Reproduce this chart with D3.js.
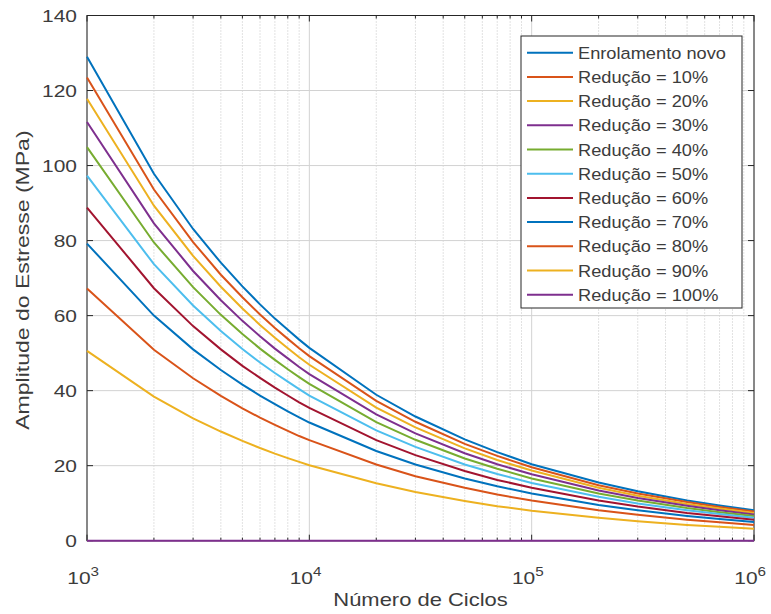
<!DOCTYPE html>
<html>
<head>
<meta charset="utf-8">
<script src="https://d3js.org/d3.v7.min.js"></script>
<style>
  body { margin: 0; background: #fff; }
  svg { display: block; font-family: "Liberation Sans", Arial, sans-serif; }
</style>
</head>
<body>
<div id="chart"></div>
<script>
// cycle counts where the curves were sampled
const cycles = [1e3, 2e3, 3e3, 4e3, 5e3, 6e3, 7e3, 8e3, 9e3, 1e4, 2e4, 3e4, 5e4, 7e4, 1e5, 2e5, 3e5, 5e5, 7e5, 1e6];

const novo   = [129.0, 97.8, 83.1, 74.1, 67.8, 63.0, 59.2, 56.2, 53.6, 51.4, 38.9, 33.1, 27.0, 23.6, 20.4, 15.5, 13.2, 10.7, 9.4, 8.1];
const red10  = [123.5, 93.6, 79.6, 70.9, 64.9, 60.3, 56.7, 53.8, 51.3, 49.2, 37.3, 31.7, 25.8, 22.6, 19.6, 14.8, 12.6, 10.3, 9.0, 7.8];
const red20  = [117.8, 89.3, 75.9, 67.7, 61.9, 57.5, 54.1, 51.3, 48.9, 46.9, 35.5, 30.2, 24.6, 21.5, 18.7, 14.1, 12.0, 9.8, 8.6, 7.4];
const red30  = [111.6, 84.6, 71.9, 64.1, 58.6, 54.5, 51.2, 48.6, 46.3, 44.4, 33.7, 28.6, 23.3, 20.4, 17.7, 13.4, 11.4, 9.3, 8.1, 7.0];
const red40  = [104.9, 79.5, 67.6, 60.2, 55.1, 51.2, 48.2, 45.7, 43.6, 41.8, 31.6, 26.9, 21.9, 19.2, 16.6, 12.6, 10.7, 8.7, 7.6, 6.6];
const red50  = [97.3, 73.7, 62.7, 55.9, 51.1, 47.5, 44.7, 42.4, 40.4, 38.7, 29.4, 25.0, 20.3, 17.8, 15.4, 11.7, 9.9, 8.1, 7.1, 6.1];
const red60  = [88.8, 67.3, 57.2, 51.0, 46.6, 43.4, 40.8, 38.7, 36.9, 35.4, 26.8, 22.8, 18.6, 16.2, 14.1, 10.7, 9.1, 7.4, 6.5, 5.6];
const red70  = [79.2, 60.0, 51.0, 45.5, 41.6, 38.7, 36.4, 34.5, 32.9, 31.5, 23.9, 20.3, 16.6, 14.5, 12.6, 9.5, 8.1, 6.6, 5.8, 5.0];
const red80  = [67.2, 50.9, 43.3, 38.6, 35.3, 32.8, 30.9, 29.3, 27.9, 26.8, 20.3, 17.2, 14.1, 12.3, 10.7, 8.1, 6.9, 5.6, 4.9, 4.2];
const red90  = [50.6, 38.4, 32.6, 29.1, 26.6, 24.7, 23.2, 22.0, 21.0, 20.1, 15.3, 13.0, 10.6, 9.2, 8.0, 6.1, 5.2, 4.2, 3.7, 3.2];
const red100 = [0, 0, 0, 0, 0, 0, 0, 0, 0, 0, 0, 0, 0, 0, 0, 0, 0, 0, 0, 0];

const seriesNames = ['Enrolamento novo', 'Redução = 10%', 'Redução = 20%', 'Redução = 30%', 'Redução = 40%',
  'Redução = 50%', 'Redução = 60%', 'Redução = 70%', 'Redução = 80%', 'Redução = 90%', 'Redução = 100%'];
const seriesValues = [novo, red10, red20, red30, red40, red50, red60, red70, red80, red90, red100];
const colors = ['#0072BD', '#D95319', '#EDB120', '#7E2F8E', '#77AC30', '#4DBEEE', '#A2142F',
  '#0072BD', '#D95319', '#EDB120', '#7E2F8E'];

const yTicks = [0, 20, 40, 60, 80, 100, 120, 140];
const xTicks = [1e3, 1e4, 1e5, 1e6];

const W = 771, H = 614;
const margin = { top: 15.5, right: 17, bottom: 73.3, left: 87 };
const w = W - margin.left - margin.right;
const h = H - margin.top - margin.bottom;
const ink = '#262626';
const txt = '#3c3c3c';

const svg = d3.select('#chart').append('svg').attr('width', W).attr('height', H);
const g = svg.append('g').attr('transform', `translate(${margin.left},${margin.top})`);

const x = d3.scaleLog().domain([1e3, 1e6]).range([0, w]);
const y = d3.scaleLinear().domain([0, 140]).range([h, 0]);

// minor log ticks
const minor = [];
[1e3, 1e4, 1e5].forEach(d => { for (let k = 2; k <= 9; k++) minor.push(d * k); });

// grid
g.append('g').selectAll('line').data(minor).join('line')
  .attr('x1', d => x(d)).attr('x2', d => x(d)).attr('y1', 0).attr('y2', h)
  .attr('stroke', '#c4c4c4').attr('stroke-width', 1).attr('stroke-dasharray', '1 2');
g.append('g').selectAll('line').data(xTicks).join('line')
  .attr('x1', d => x(d)).attr('x2', d => x(d)).attr('y1', 0).attr('y2', h)
  .attr('stroke', '#d2d2d2').attr('stroke-width', 1);
g.append('g').selectAll('line').data(yTicks).join('line')
  .attr('x1', 0).attr('x2', w).attr('y1', d => y(d)).attr('y2', d => y(d))
  .attr('stroke', '#d2d2d2').attr('stroke-width', 1);

// box and ticks
g.append('rect').attr('width', w).attr('height', h).attr('fill', 'none').attr('stroke', ink).attr('stroke-width', 1);
const tk = g.append('g').attr('stroke', ink).attr('stroke-width', 1);
yTicks.forEach(v => {
  tk.append('line').attr('x1', 0).attr('x2', 6).attr('y1', y(v)).attr('y2', y(v));
  tk.append('line').attr('x1', w).attr('x2', w - 6).attr('y1', y(v)).attr('y2', y(v));
});
xTicks.forEach(v => {
  tk.append('line').attr('x1', x(v)).attr('x2', x(v)).attr('y1', h).attr('y2', h - 6);
  tk.append('line').attr('x1', x(v)).attr('x2', x(v)).attr('y1', 0).attr('y2', 6);
});
minor.forEach(v => {
  tk.append('line').attr('x1', x(v)).attr('x2', x(v)).attr('y1', h).attr('y2', h - 3);
  tk.append('line').attr('x1', x(v)).attr('x2', x(v)).attr('y1', 0).attr('y2', 3);
});

// curves (drawn over the axes, the 100% line sits on the bottom edge)
const line = d3.line().x((d, i) => x(cycles[i])).y(d => y(d));
g.append('g').selectAll('path').data(seriesValues).join('path')
  .attr('d', d => line(d))
  .attr('fill', 'none')
  .attr('stroke', (d, i) => colors[i])
  .attr('stroke-width', 2);

// y tick labels
g.append('g').selectAll('text').data(yTicks).join('text')
  .attr('transform', d => `translate(-10,${y(d) + 6}) scale(1.27,1)`)
  .attr('text-anchor', 'end')
  .attr('font-size', 16.5).attr('fill', txt)
  .text(d => d);

// x tick labels 10^n
const xl = g.append('g').selectAll('g').data(xTicks).join('g')
  .attr('transform', d => `translate(${x(d)},${h + 43}) scale(1.27,1)`);
xl.append('text').attr('text-anchor', 'middle').attr('x', -3)
  .attr('font-size', 16.5).attr('fill', txt)
  .text('10')
  .append('tspan').attr('dy', -8).attr('font-size', 12).text(d => Math.round(Math.log10(d)));

// axis titles
svg.append('text')
  .attr('transform', `translate(${margin.left + w / 2},${H - 8}) scale(1.22,1)`)
  .attr('text-anchor', 'middle').attr('font-size', 18).attr('fill', txt)
  .text('Número de Ciclos');
svg.append('text')
  .attr('transform', `translate(29,${margin.top + h / 2 + 2}) rotate(-90) scale(1.28,1)`)
  .attr('text-anchor', 'middle').attr('font-size', 18).attr('fill', txt)
  .text('Amplitude do Estresse (MPa)');

// legend
const lg = svg.append('g').attr('transform', 'translate(521,36)');
lg.append('rect').attr('width', 221).attr('height', 272)
  .attr('fill', '#fff').attr('stroke', ink).attr('stroke-width', 1);
const items = lg.selectAll('g.item').data(seriesNames).join('g')
  .attr('class', 'item')
  .attr('transform', (d, i) => `translate(0,${16.7 + i * 24.2})`);
items.append('line').attr('x1', 6).attr('x2', 52).attr('y1', 0).attr('y2', 0)
  .attr('stroke', (d, i) => colors[i]).attr('stroke-width', 2);
items.append('text')
  .attr('transform', 'translate(57,6) scale(1.06,1)')
  .attr('font-size', 17.2).attr('fill', txt)
  .text(d => d);
</script>
</body>
</html>
